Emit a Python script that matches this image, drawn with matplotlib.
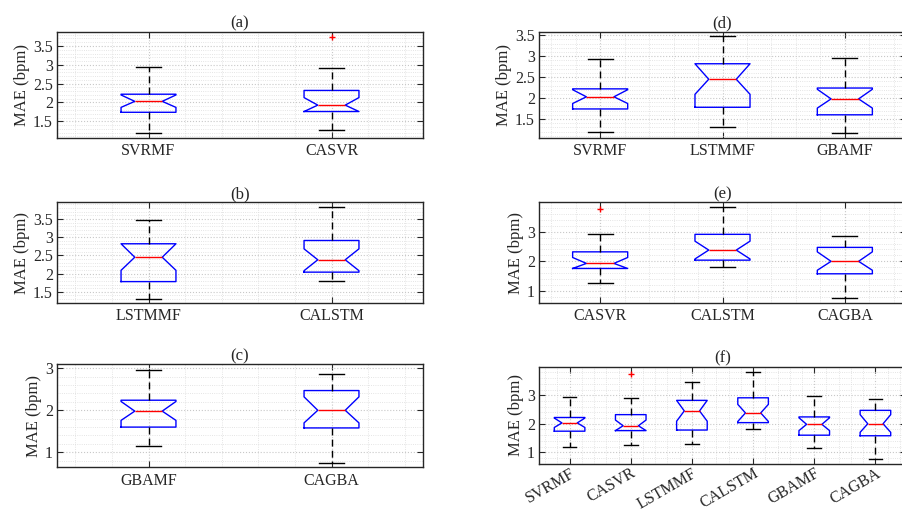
import matplotlib.pyplot as plt
import numpy as np
from matplotlib.ticker import MultipleLocator

plt.rcParams['font.family'] = ['Liberation Serif', 'DejaVu Serif']
plt.rcParams['font.size'] = 11.5

# per-model box statistics (MAE in bpm)
models = ['SVRMF', 'CASVR', 'LSTMMF', 'CALSTM', 'GBAMF', 'CAGBA']
whisker_low = [1.18, 1.26, 1.30, 1.80, 1.16, 0.75]
q1 = [1.74, 1.76, 1.78, 2.04, 1.60, 1.58]
median = [2.03, 1.93, 2.45, 2.38, 1.98, 2.00]
q3 = [2.22, 2.32, 2.82, 2.91, 2.24, 2.47]
whisker_high = [2.94, 2.92, 3.48, 3.83, 2.96, 2.86]
notch_low = [1.87, 1.76, 2.09, 2.08, 1.76, 1.70]
notch_high = [2.20, 2.13, 2.82, 2.68, 2.21, 2.32]
outliers = [[], [3.75], [], [], [], []]

W, H = 902, 511
fig = plt.figure(figsize=(W / 100, H / 100), dpi=100)


def axes_px(left, top, width, height):
    return fig.add_axes([left / W, 1 - (top + height) / H, width / W, height / H])


def stats_for(name):
    i = models.index(name)
    return dict(label=name, whislo=whisker_low[i], q1=q1[i], med=median[i], q3=q3[i],
                whishi=whisker_high[i], cilo=notch_low[i], cihi=notch_high[i],
                fliers=np.array(outliers[i]))


# (title, models, left, top, width, height, ylim, yticks, yminor, box width, rotation)
panels = [
    ('(a)', ['SVRMF', 'CASVR'], 57, 31.7, 366, 106, (1.065, 3.88), [1.5, 2, 2.5, 3, 3.5], 0.1, 0.3, 0),
    ('(b)', ['LSTMMF', 'CALSTM'], 57, 202.3, 366, 100.4, (1.2, 3.96), [1.5, 2, 2.5, 3, 3.5], 0.1, 0.3, 0),
    ('(c)', ['GBAMF', 'CAGBA'], 57, 364.3, 366, 102.7, (0.65, 3.095), [1, 2, 3], 0.2, 0.3, 0),
    ('(d)', ['SVRMF', 'LSTMMF', 'GBAMF'], 539, 31.7, 367, 106, (1.053, 3.586), [1.5, 2, 2.5, 3, 3.5], 0.1, 0.45, 0),
    ('(e)', ['CASVR', 'CALSTM', 'CAGBA'], 539, 202.3, 367, 100.4, (0.606, 3.99), [1, 2, 3], 0.2, 0.45, 0),
    ('(f)', models, 539, 366.7, 367, 97.3, (0.59, 4.0), [1, 2, 3], 0.2, 0.5, 30),
]

spine_c = '#262626'
for title, names, l, t, w, h, ylim, yticks, yminor, bw, rot in panels:
    ax = axes_px(l, t, w, h)
    n = len(names)
    pos = np.arange(1, n + 1)
    ax.bxp([stats_for(m) for m in names], positions=pos, widths=bw,
           capwidths=0.45 * bw, shownotches=True, showfliers=True,
           boxprops=dict(color='#0000ff', linewidth=1.0),
           medianprops=dict(color='#ff0000', linewidth=1.0),
           whiskerprops=dict(color='black', linestyle=(0, (5, 3)), linewidth=1.0),
           capprops=dict(color='black', linewidth=1.0),
           flierprops=dict(marker='+', markeredgecolor='#ff0000', markersize=5, linestyle='none'))
    ax.set_xlim(0.5, n + 0.5)
    ax.set_ylim(*ylim)
    ax.set_yticks(yticks)
    ax.set_yticklabels([('%g' % v) for v in yticks])
    ax.set_xticks(pos)
    if rot:
        ax.set_xticklabels(names, rotation=rot, ha='right', va='top', rotation_mode='anchor')
        ax.tick_params(axis='x', pad=1)
    else:
        ax.set_xticklabels(names)
    ax.xaxis.set_minor_locator(MultipleLocator(0.2))
    ax.yaxis.set_minor_locator(MultipleLocator(yminor))
    ax.grid(True, which='major', color='#c8c8c8', linestyle=':', linewidth=0.8)
    ax.grid(True, which='minor', color='#dcdcdc', linestyle=':', linewidth=0.6)
    ax.set_axisbelow(True)
    ax.tick_params(which='major', direction='in', length=4, width=0.8, color=spine_c,
                   top=True, right=True, labelsize=11.5, labelcolor='#262626')
    ax.tick_params(axis='y', pad=3)
    if not rot:
        ax.tick_params(axis='x', pad=4)
    ax.tick_params(which='minor', length=0, top=True, right=True)
    for s in ax.spines.values():
        s.set_color(spine_c)
        s.set_linewidth(1.0)
    ax.set_ylabel('MAE (bpm)', fontsize=12, labelpad=2, color='#262626')
    ax.set_title(title, fontsize=12, pad=3, color='#262626')

fig.savefig('out.png', dpi=100)
